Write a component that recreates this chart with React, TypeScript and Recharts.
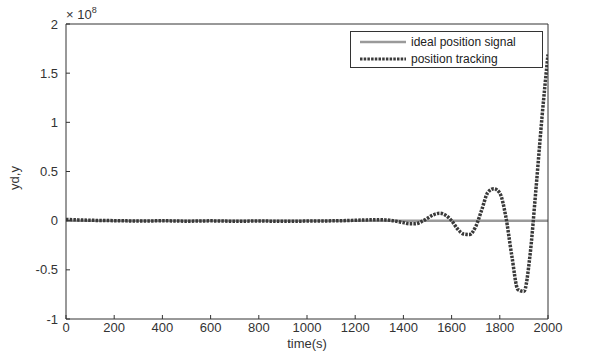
import { Line, LineChart, XAxis, YAxis } from "recharts";

document.body.style.margin = "0";

const timeTicks = [0, 200, 400, 600, 800, 1000, 1200, 1400, 1600, 1800, 2000];
const yTicks = [-1, -0.5, 0, 0.5, 1, 1.5, 2];

// position tracking, in units of 1e8
const time = [
  0, 50, 100, 150, 200, 250, 300, 350, 400, 450, 500, 550, 600, 650, 700, 750, 800, 850, 900, 950, 1000,
  1050, 1100, 1150, 1200, 1250, 1300, 1325, 1350, 1375, 1400, 1425, 1450, 1475, 1500, 1525, 1550, 1575,
  1600, 1625, 1650, 1675, 1700, 1725, 1750, 1775, 1800, 1825, 1850, 1875, 1900, 1925, 1950, 1975, 2000,
];
const tracking = [
  0.012, 0.008, 0.004, 0.002, 0.0, -0.002, -0.004, -0.003, -0.001, -0.003, -0.005, -0.004, -0.002, -0.004,
  -0.006, -0.005, -0.003, -0.005, -0.007, -0.006, -0.004, -0.003, -0.002, 0.0, 0.004, 0.008, 0.01, 0.008,
  0.002, -0.008, -0.02, -0.032, -0.032, -0.01, 0.025, 0.06, 0.075, 0.055, 0.0, -0.085, -0.135, -0.14,
  -0.06, 0.11, 0.285, 0.325, 0.28, 0.04, -0.36, -0.7, -0.72, -0.36, 0.32, 1.05, 1.69,
];

// ideal position signal (flat at this scale)
const idealTime = [0, 2000];
const idealValues = [0, 0];

const trackingData = time.map((t, i) => ({ t, y: tracking[i] }));
const idealData = idealTime.map((t, i) => ({ t, yd: idealValues[i] }));

const font = "'Liberation Sans', Arial, sans-serif";
const axisColor = "#333";

function LegendBox() {
  return (
    <div
      style={{
        position: "absolute",
        left: 350,
        top: 31,
        border: "1px solid #333",
        background: "#fff",
        width: 193,
        height: 37,
        boxSizing: "border-box",
        fontFamily: font,
        fontSize: 12,
        color: "#222",
        padding: "1px 0 0 9px",
      }}
    >
      <div style={{ display: "flex", alignItems: "center", height: 17 }}>
        <svg width={46} height={6} style={{ marginRight: 5 }}>
          <line x1={0} y1={3} x2={46} y2={3} stroke="#9a9a9a" strokeWidth={2.5} />
        </svg>
        ideal position signal
      </div>
      <div style={{ display: "flex", alignItems: "center", height: 17 }}>
        <svg width={46} height={6} style={{ marginRight: 5 }}>
          <line x1={0} y1={3} x2={46} y2={3} stroke="#3a3a3a" strokeWidth={3} strokeDasharray="2.5 1.2" />
        </svg>
        position tracking
      </div>
    </div>
  );
}

export default function App() {
  return (
    <div style={{ position: "relative", width: 592, height: 353, background: "#fff", fontFamily: font }}>
      <LineChart width={592} height={353} margin={{ top: 23, right: 43, bottom: 0, left: 0 }}>
        <XAxis
          xAxisId="bottom"
          dataKey="t"
          type="number"
          domain={[0, 2000]}
          ticks={timeTicks}
          height={34}
          tickSize={-4}
          tickMargin={8}
          stroke={axisColor}
          tick={{ fill: "#333", fontSize: 13, fontFamily: font }}
          interval={0}
          allowDataOverflow
        />
        <XAxis
          xAxisId="top"
          orientation="top"
          dataKey="t"
          type="number"
          domain={[0, 2000]}
          ticks={timeTicks}
          height={1}
          tickSize={-4}
          stroke={axisColor}
          tick={false}
          allowDataOverflow
        />
        <YAxis
          yAxisId="left"
          type="number"
          domain={[-1, 2]}
          ticks={yTicks}
          width={66}
          tickSize={-4}
          tickMargin={12}
          stroke={axisColor}
          tick={{ fill: "#333", fontSize: 13, fontFamily: font }}
          tickFormatter={(v: number) => String(v)}
          interval={0}
          allowDataOverflow
        />
        <YAxis
          yAxisId="right"
          orientation="right"
          type="number"
          domain={[-1, 2]}
          ticks={yTicks}
          width={1}
          tickSize={-4}
          stroke={axisColor}
          tick={false}
          allowDataOverflow
        />
        <Line
          xAxisId="bottom"
          yAxisId="left"
          data={idealData}
          dataKey="yd"
          name="ideal position signal"
          stroke="#9a9a9a"
          strokeWidth={2.5}
          dot={false}
          isAnimationActive={false}
        />
        <Line
          xAxisId="bottom"
          yAxisId="left"
          data={trackingData}
          dataKey="y"
          name="position tracking"
          type="monotone"
          stroke="#3a3a3a"
          strokeWidth={3.5}
          strokeDasharray="2.5 1.2"
          dot={false}
          isAnimationActive={false}
        />
      </LineChart>
      <LegendBox />
      <div style={{ position: "absolute", left: 66, top: 6, fontSize: 13, color: "#333" }}>
        × 10<sup style={{ fontSize: 9, position: "relative", top: -1 }}>8</sup>
      </div>
      <div
        style={{
          position: "absolute",
          left: 14,
          top: 178,
          transform: "translate(-50%, -50%) rotate(-90deg)",
          fontSize: 13,
          color: "#333",
          whiteSpace: "nowrap",
        }}
      >
        yd,y
      </div>
      <div
        style={{
          position: "absolute",
          left: 307,
          top: 343,
          transform: "translate(-50%, -50%)",
          fontSize: 13,
          color: "#333",
        }}
      >
        time(s)
      </div>
    </div>
  );
}
